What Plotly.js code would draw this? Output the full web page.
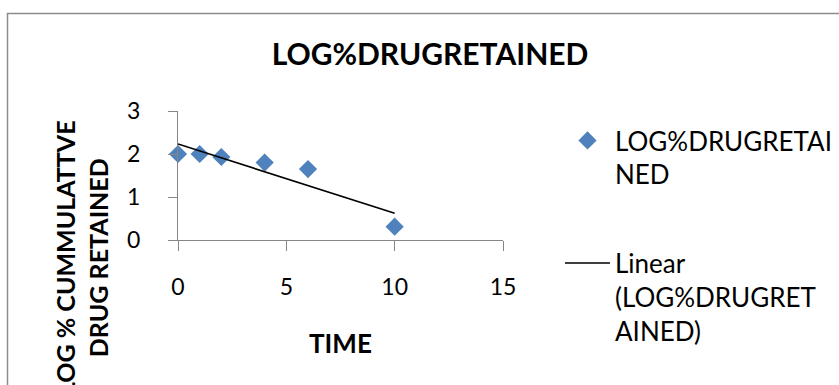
<!DOCTYPE html>
<html>
<head>
<meta charset="utf-8">
<script src="https://cdn.plot.ly/plotly-3.0.1.min.js"></script>
<style>html,body{margin:0;padding:0;background:#fff;}#chart{width:839px;height:385px;}</style>
</head>
<body>
<div id="chart"></div>
<script>
// ---- data ----
var timeValues = [0, 1, 2, 4, 6, 10];
var logDrugRetained = [2.0, 2.0, 1.93, 1.8, 1.65, 0.31];
var xTickValues = [0, 5, 10, 15];
var yTickValues = [0, 1, 2, 3];
var seriesName = 'LOG%DRUGRETAI<br>NED';
var trendName = 'Linear<br>(LOG%DRUGRET<br>AINED)';
var chartTitle = 'LOG%DRUGRETAINED';
var xTitle = 'TIME';
var yTitle = 'LOG % CUMMULATTVE<br>DRUG RETAINED';

// least-squares linear trendline computed from the series
function linFit(xs, ys) {
  var n = xs.length, sx = 0, sy = 0, sxx = 0, sxy = 0;
  for (var i = 0; i < n; i++) { sx += xs[i]; sy += ys[i]; sxx += xs[i]*xs[i]; sxy += xs[i]*ys[i]; }
  var m = (n*sxy - sx*sy) / (n*sxx - sx*sx);
  var b = (sy - m*sx) / n;
  return {m: m, b: b};
}
var fit = linFit(timeValues, logDrugRetained);
var xMin = Math.min.apply(null, timeValues), xMax = Math.max.apply(null, timeValues);
var trendX = [xMin, xMax];
var trendY = trendX.map(function (x) { return fit.m * x + fit.b; });

// ---- layout geometry (pixels) ----
var W = 839, H = 385;
var PL = 178, PR = 503, PT = 111, PB = 240;
function px(x) { return (x - PL) / (PR - PL); }
function py(y) { return (PB - y) / (PB - PT); }

var FONT = 'Lato, "Open Sans", sans-serif';
var axisColor = '#868686';

var traces = [
  {
    x: timeValues, y: logDrugRetained, type: 'scatter', mode: 'markers',
    name: seriesName, legendgroup: 'a',
    marker: {symbol: 'diamond', size: 14, color: '#4F81BD'},
    cliponaxis: false
  },
  {
    x: trendX, y: trendY, type: 'scatter', mode: 'lines',
    name: trendName, legendgroup: 'b',
    line: {color: '#000000', width: 1.6}
  }
];

var layout = {
  width: W, height: H,
  margin: {l: PL, r: W - PR, t: PT, b: H - PB, pad: 0, autoexpand: false},
  paper_bgcolor: '#ffffff', plot_bgcolor: '#ffffff',
  font: {family: FONT, color: '#000000', size: 24},
  title: {
    text: chartTitle, xref: 'container', yref: 'container',
    x: 430 / W, y: 1 - 54 / H, xanchor: 'center', yanchor: 'middle',
    font: {family: FONT, size: 30, weight: 700, color: '#000000'}
  },
  xaxis: {
    range: [0, 15], tickvals: xTickValues, ticktext: xTickValues.map(String),
    showgrid: false, zeroline: false, showline: true, linecolor: axisColor, linewidth: 1,
    ticks: 'outside', ticklen: 10, tickcolor: axisColor, tickwidth: 1,
    tickfont: {family: FONT, size: 23, color: '#000000'},
    ticklabelstandoff: 16, fixedrange: true
  },
  yaxis: {
    range: [0, 3], tickvals: yTickValues, ticktext: yTickValues.map(String),
    showgrid: false, zeroline: false, showline: true, linecolor: axisColor, linewidth: 1,
    ticks: 'outside', ticklen: 9, tickcolor: axisColor, tickwidth: 1,
    tickfont: {family: FONT, size: 23, color: '#000000'},
    ticklabelstandoff: 23, fixedrange: true
  },
  showlegend: true,
  legend: {
    x: px(560), y: py(117), xanchor: 'left', yanchor: 'top',
    font: {family: FONT, size: 26, color: '#000000'},
    bgcolor: 'rgba(0,0,0,0)', borderwidth: 0,
    itemwidth: 45, tracegroupgap: 52, valign: 'top',
    maxheight: 380
  },
  annotations: [
    {
      text: yTitle, textangle: -90, showarrow: false,
      xref: 'paper', yref: 'paper', x: px(81), y: py(258),
      xanchor: 'center', yanchor: 'middle',
      font: {family: FONT, size: 25, weight: 700, color: '#000000'}
    },
    {
      text: xTitle, showarrow: false,
      xref: 'paper', yref: 'paper', x: px(340), y: py(342.5),
      xanchor: 'center', yanchor: 'middle',
      font: {family: FONT, size: 26, weight: 700, color: '#000000'}
    }
  ],
  shapes: [
    {
      type: 'rect', xref: 'paper', yref: 'paper', layer: 'below',
      x0: px(7.5), x1: px(860), y0: py(13.5), y1: py(420),
      line: {color: '#8c8c8c', width: 1.5}, fillcolor: 'rgba(0,0,0,0)'
    }
  ]
};

Plotly.newPlot('chart', traces, layout, {staticPlot: true, displayModeBar: false});
</script>
</body>
</html>
